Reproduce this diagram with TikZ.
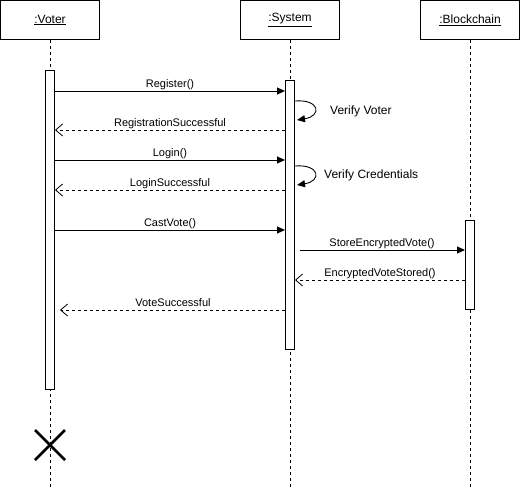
\documentclass[tikz,border=0pt]{standalone}
\usepackage{fontspec}
\setmainfont{Liberation Sans}
\usetikzlibrary{arrows.meta}
\begin{document}
\begin{tikzpicture}[x=1pt,y=-1pt,
  head/.style={draw, line width=1pt, minimum width=99pt, minimum height=39pt,
    inner sep=0pt, font=\fontsize{12}{14}\selectfont},
  bar/.style={draw, fill=white, line width=1pt, minimum width=9pt, inner sep=0pt},
  life/.style={dash pattern=on 3pt off 3pt, line width=0.8pt},
  call/.style={-{Triangle[length=8pt,width=7pt]}, line width=0.9pt},
  reply/.style={-{Straight Barb[length=7pt,width=12pt]}, dash pattern=on 3pt off 3pt, line width=0.8pt},
  lbl/.style={font=\fontsize{11}{13}\selectfont, inner sep=0pt, anchor=base},
  note/.style={font=\fontsize{12}{14}\selectfont, inner sep=0pt, anchor=west}
]
\useasboundingbox (0,0) rectangle (521,491);

% participants
\node[head] (voter) at (50,20) {\underline{:Voter}};
\node[head] (system) at (290,20) {\underline{:System}};
\node[head] (chain) at (470,20) {\underline{:Blockchain}};

% lifelines
\coordinate (voterEnd) at (50,488);
\coordinate (systemEnd) at (290,488);
\coordinate (chainEnd) at (470,488);
\draw[life] (voter.south) -- (voterEnd);
\draw[life] (system.south) -- (systemEnd);
\draw[life] (chain.south) -- (chainEnd);

% activation bars
\node[bar, minimum height=319pt] (vbar) at (50,230) {};
\node[bar, minimum height=269pt] (sbar) at (290,215) {};
\node[bar, minimum height=89pt] (cbar) at (470,265) {};

% message end points
\coordinate (regA) at (55,91);   \coordinate (regB) at (285,91);
\coordinate (rsA) at (285,130);  \coordinate (rsB) at (55,130);
\coordinate (logA) at (55,160);  \coordinate (logB) at (285,160);
\coordinate (lsA) at (285,190);  \coordinate (lsB) at (55,190);
\coordinate (cvA) at (55,230);   \coordinate (cvB) at (285,230);
\coordinate (seA) at (300,250);  \coordinate (seB) at (465,250);
\coordinate (esA) at (465,280);  \coordinate (esB) at (295,280);
\coordinate (vsA) at (285,310);  \coordinate (vsB) at (60,310);
\coordinate (vvA) at (295,101);  \coordinate (vvB) at (297,120);
\coordinate (vcA) at (295,166);  \coordinate (vcB) at (297,185);

% messages
\draw[call] (regA) -- (regB);
\node[lbl] at (170,87) {Register()};
\draw[reply] (rsA) -- (rsB);
\node[lbl] at (170,126) {RegistrationSuccessful};
\draw[call] (logA) -- (logB);
\node[lbl] at (170,156) {Login()};
\draw[reply] (lsA) -- (lsB);
\node[lbl] at (170,186) {LoginSuccessful};
\draw[call] (cvA) -- (cvB);
\node[lbl] at (170,226) {CastVote()};
\draw[call] (seA) -- (seB);
\node[lbl] at (382,246) {StoreEncryptedVote()};
\draw[reply] (esA) -- (esB);
\node[lbl] at (380,276) {EncryptedVoteStored()};
\draw[reply] (vsA) -- (vsB);
\node[lbl] at (173,306) {VoteSuccessful};

% self calls
\draw[call] (vvA) .. controls (320,99) and (322,116) .. (vvB);
\node[note] at (330,111) {Verify Voter};
\draw[call] (vcA) .. controls (320,164) and (322,181) .. (vcB);
\node[note] at (324,175) {Verify Credentials};

% destruction of the voter
\draw[line width=2.8pt] (35,430) -- (65,460);
\draw[line width=2.8pt] (35,460) -- (65,430);
\end{tikzpicture}
\end{document}
